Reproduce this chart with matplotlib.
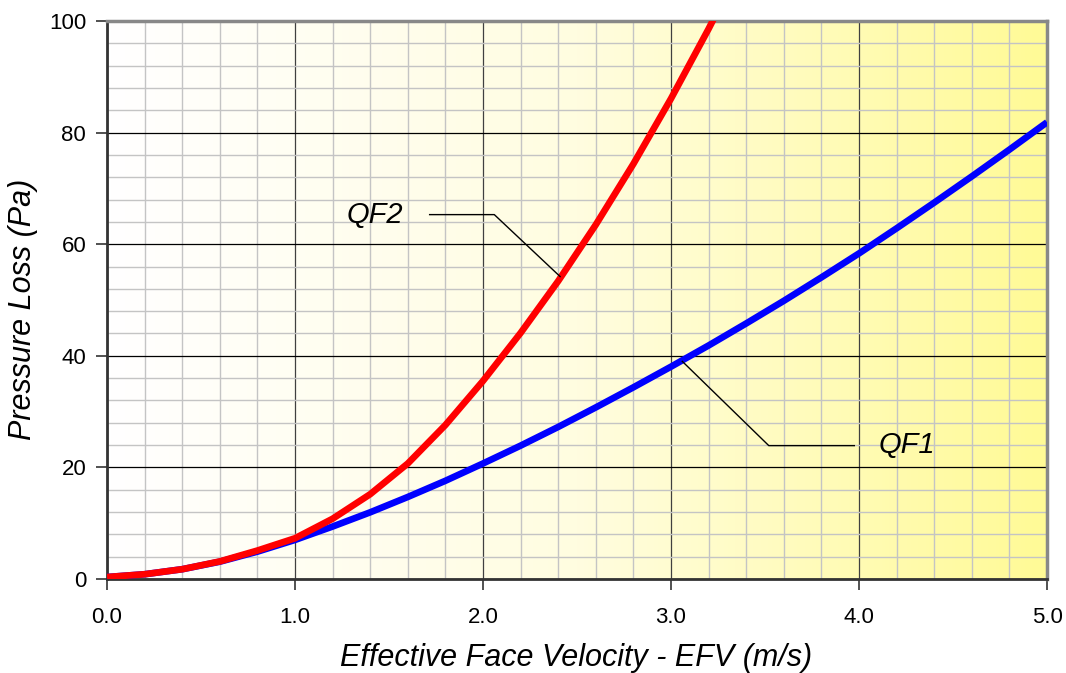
import numpy as np
import matplotlib
matplotlib.use("Agg")
import matplotlib.pyplot as plt
from matplotlib.colors import LinearSegmentedColormap

# Data
qf1_x = [0.0, 0.2, 0.4, 0.6, 0.8, 1.0, 1.2, 1.4, 1.6, 1.8, 2.0, 2.2, 2.4, 2.6,
         2.8, 3.0, 3.2, 3.4, 3.6, 3.8, 4.0, 4.2, 4.4, 4.6, 4.8, 5.0]
qf1_y = [0.35, 0.85, 1.75, 3.1, 4.9, 7.0, 9.4, 11.95, 14.7, 17.6, 20.7, 23.9, 27.25, 30.75,
         34.35, 38.05, 41.85, 45.8, 49.85, 54.05, 58.35, 62.85, 67.45, 72.15, 76.95, 81.85]
qf2_x = [0.0, 0.2, 0.4, 0.6, 0.8, 1.0, 1.2, 1.4, 1.6, 1.8, 2.0, 2.2, 2.4, 2.6,
         2.8, 3.0, 3.2, 3.3]
qf2_y = [0.35, 0.85, 1.75, 3.15, 5.1, 7.3, 10.8, 15.2, 20.7, 27.6, 35.5, 44.1, 53.4, 63.5,
         74.4, 86.1, 98.6, 105.2]
x_ticks = [0.0, 1.0, 2.0, 3.0, 4.0, 5.0]
y_ticks = [0, 20, 40, 60, 80, 100]

plt.rcParams['font.family'] = ['Liberation Sans', 'DejaVu Sans']

fig = plt.figure(figsize=(10.66, 6.73), dpi=100)
ax = fig.add_axes([0.1004, 0.1397, 0.8818, 0.8291])
ax.set_xlim(0, 5)
ax.set_ylim(0, 100)

# gradient background
cmap = LinearSegmentedColormap.from_list('bg', ['#FFFFFF', '#FFFDE0', '#FFFA96'])
grad = np.linspace(0, 1, 256).reshape(1, -1)
ax.imshow(grad, extent=[0, 5, 0, 100], aspect='auto', cmap=cmap, zorder=0)

# grid
ax.set_xticks(x_ticks)
ax.set_yticks(y_ticks)
ax.set_xticks(np.arange(0, 5.001, 0.2), minor=True)
ax.set_yticks(np.arange(0, 100.1, 4), minor=True)
ax.grid(which='minor', color='#C4C4C4', linewidth=1.0, zorder=1)
ax.grid(which='major', axis='x', color='#404040', linewidth=0.9, zorder=1)
ax.grid(which='major', axis='y', color='#000000', linewidth=0.9, zorder=1)
ax.set_axisbelow(True)

ax.plot(qf1_x, qf1_y, color='#0000FF', linewidth=4.8, zorder=3,
        solid_capstyle='butt', solid_joinstyle='round')
ax.plot(qf2_x, qf2_y, color='#FF0000', linewidth=4.8, zorder=4,
        solid_capstyle='butt', solid_joinstyle='round')

# leader lines and labels
ax.plot([1.716, 2.06, 2.41], [65.3, 65.3, 54.2], color='black', linewidth=1.0, zorder=5)
ax.text(1.425, 65.3, 'QF2', fontsize=21, style='italic', ha='center', va='center', zorder=6)
ax.plot([3.06, 3.52, 3.975], [39.0, 23.9, 23.9], color='black', linewidth=1.0, zorder=5)
ax.text(4.105, 24.0, 'QF1', fontsize=21, style='italic', ha='left', va='center', zorder=6)

ax.set_xticklabels([f'{v:.1f}' for v in x_ticks])
ax.tick_params(axis='both', which='major', labelsize=16, length=8, width=1.2,
               direction='out', color='#333333')
ax.tick_params(axis='both', which='minor', length=0)
ax.tick_params(axis='x', pad=12)
ax.tick_params(axis='y', pad=7)

ax.set_xlabel('Effective Face Velocity - EFV (m/s)', fontsize=22, style='italic')
ax.xaxis.set_label_coords(0.499, -0.1418)
ax.xaxis.label.set_va('center')
ax.set_ylabel('Pressure Loss (Pa)', fontsize=22, style='italic')
ax.yaxis.set_label_coords(-0.0894, 0.483)
ax.yaxis.label.set_va('center')

for s in ['left', 'bottom']:
    ax.spines[s].set_color('#333333')
    ax.spines[s].set_linewidth(2)
for s in ['top', 'right']:
    ax.spines[s].set_color('#888888')
    ax.spines[s].set_linewidth(2.5)

fig.savefig('out.png', dpi=100)
